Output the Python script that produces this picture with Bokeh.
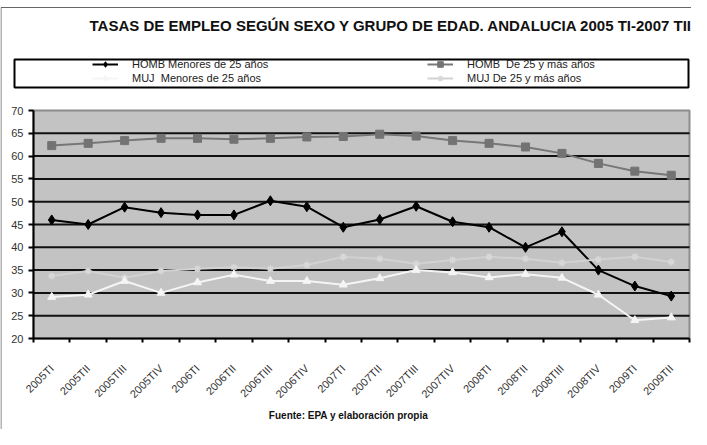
from math import pi
from bokeh.plotting import figure
from bokeh.models import (FixedTicker, Range1d, Legend, LegendItem, Label,
                          BoxAnnotation)
from bokeh.embed import file_html
from bokeh.resources import INLINE

periods = ["2005TI", "2005TII", "2005TIII", "2005TIV", "2006TI", "2006TII",
           "2006TIII", "2006TIV", "2007TI", "2007TII", "2007TIII", "2007TIV",
           "2008TI", "2008TII", "2008TIII", "2008TIV", "2009TI", "2009TII"]
homb_menores = [46.0, 45.0, 48.8, 47.6, 47.1, 47.1, 50.2, 48.9, 44.4, 46.1,
                49.0, 45.6, 44.4, 40.0, 43.4, 35.0, 31.5, 29.3]
homb_mayores = [62.3, 62.8, 63.4, 63.9, 63.9, 63.7, 63.9, 64.2, 64.3, 64.8,
                64.4, 63.4, 62.8, 62.0, 60.6, 58.4, 56.7, 55.8]
muj_menores = [29.1, 29.6, 32.6, 30.0, 32.3, 34.0, 32.6, 32.6, 31.8, 33.2,
               35.0, 34.5, 33.4, 34.1, 33.3, 29.6, 24.0, 24.6]
muj_mayores = [33.7, 34.8, 33.3, 34.8, 35.3, 35.6, 35.3, 36.1, 37.9, 37.5,
               36.4, 37.2, 37.9, 37.5, 36.6, 37.3, 37.9, 36.8]
y_ticks = [20, 25, 30, 35, 40, 45, 50, 55, 60, 65, 70]

title_text = "TASAS DE EMPLEO SEGÚN SEXO Y GRUPO DE EDAD. ANDALUCIA 2005 TI-2007 TII"
source_text = "Fuente: EPA y elaboración propia"
labels = ["HOMB Menores de 25 años", "HOMB  De 25 y más años",
          "MUJ  Menores de 25 años", "MUJ De 25 y más años"]

FONT = "Liberation Sans"

# ---- layout (canvas pixels) ----
W, H = 691, 429
PL, PR, PT, PB = 33, 689, 110, 338     # plot area edges

n = len(periods)
idx = list(range(n))
x0, x1 = -0.5, n - 0.5
y0, y1 = y_ticks[0], y_ticks[-1]
ppx = (PR - PL) / (x1 - x0)
ppy = (PB - PT) / (y1 - y0)

p = figure(width=W, height=H, output_backend="svg", toolbar_location=None,
           x_range=Range1d(x0 - PL / ppx, x1 + (W - PR) / ppx),
           y_range=Range1d(y0 - (H - PB) / ppy, y1 + PT / ppy),
           min_border=0, background_fill_color="white",
           border_fill_color="white", outline_line_color=None)
p.title.visible = False

# plot area background
p.add_layout(BoxAnnotation(left=x0, right=x1, bottom=y0, top=y1,
                           fill_color="#c3c3c3", fill_alpha=1,
                           line_color="#8c8c8c", line_width=2, line_alpha=1,
                           level="underlay"))

# horizontal grid lines
grid_vals = y_ticks[1:-1]
p.segment(x0=x0, x1=x1, y0=grid_vals, y1=grid_vals, line_color="#111111",
          line_width=2)
p.xgrid.visible = False
p.ygrid.visible = False

# x axis: labels centred on categories, ticks on boundaries
xa = p.xaxis[0]
xa.fixed_location = y0
xa.bounds = (x0, x1)
xa.ticker = FixedTicker(ticks=idx, minor_ticks=[i - 0.5 for i in range(n + 1)])
xa.major_label_overrides = {i: s for i, s in zip(idx, periods)}
xa.major_label_orientation = pi / 4
xa.major_tick_line_color = None
xa.minor_tick_out = 4
xa.minor_tick_in = 0
xa.minor_tick_line_color = "black"
xa.minor_tick_line_width = 2
xa.axis_line_color = "black"
xa.axis_line_width = 2
xa.major_label_standoff = 22
xa.major_label_text_font = FONT
xa.major_label_text_font_size = "11px"
xa.major_label_text_color = "#333333"

ya = p.yaxis[0]
ya.fixed_location = x0
ya.bounds = (y0, y1)
ya.ticker = FixedTicker(ticks=y_ticks)
ya.major_tick_out = 5
ya.major_tick_in = 0
ya.minor_tick_line_color = None
ya.axis_line_color = "black"
ya.axis_line_width = 2
ya.major_tick_line_color = "black"
ya.major_tick_line_width = 2
ya.major_label_standoff = 5
ya.major_label_text_font = FONT
ya.major_label_text_font_size = "11px"
ya.major_label_text_color = "#333333"

r1 = p.line(idx, homb_menores, line_color="#000000", line_width=2)
s1 = p.scatter(idx, homb_menores, marker="diamond", size=10, color="#000000")
r2 = p.line(idx, homb_mayores, line_color="#777777", line_width=2)
s2 = p.scatter(idx, homb_mayores, marker="square", size=8, color="#737373")
r4 = p.line(idx, muj_mayores, line_color="#d2d2d2", line_width=2)
s4 = p.scatter(idx, muj_mayores, marker="asterisk", size=7,
               line_color="#d8d8d8", line_width=1.5)
r3 = p.line(idx, muj_menores, line_color="#f5f5f5", line_width=2)
s3 = p.scatter(idx, muj_menores, marker="triangle", size=8, color="#f5f5f5")


def make_legend(items, x):
    return Legend(items=items, location=(x, H - 85), orientation="vertical",
                  padding=0, margin=0, spacing=0, glyph_width=26,
                  glyph_height=14, label_height=14, label_standoff=14,
                  label_text_font=FONT, label_text_font_size="11px",
                  label_text_color="#222222", border_line_alpha=0,
                  background_fill_alpha=0)


leg1 = make_legend([LegendItem(label=labels[0], renderers=[r1, s1]),
                    LegendItem(label=labels[2], renderers=[r3, s3])], 92)
leg2 = make_legend([LegendItem(label=labels[1], renderers=[r2, s2]),
                    LegendItem(label=labels[3], renderers=[r4, s4])], 427)
p.add_layout(leg1)
p.add_layout(leg2)

# legend frame and outer chart frame (screen units)
p.add_layout(BoxAnnotation(left=14, right=688, top=H - 59, bottom=H - 87,
                           left_units="screen", right_units="screen",
                           top_units="screen", bottom_units="screen",
                           fill_alpha=0, line_color="black", line_width=2,
                           line_alpha=1))
p.add_layout(BoxAnnotation(left=0.5, right=W + 20, top=H - 7, bottom=-20,
                           left_units="screen", right_units="screen",
                           top_units="screen", bottom_units="screen",
                           fill_alpha=0, line_color="#666666", line_width=1,
                           line_alpha=1))

p.add_layout(Label(x=89, y=H - 25, x_units="screen", y_units="screen",
                   text=title_text, text_font=FONT, text_font_size="15px",
                   text_font_style="bold", text_baseline="middle",
                   text_color="#111111"))
p.add_layout(Label(x=348, y=H - 415, x_units="screen", y_units="screen",
                   text=source_text, text_font=FONT, text_font_size="10px",
                   text_font_style="bold", text_align="center",
                   text_baseline="middle", text_color="#111111"))

open("out.html", "w").write(file_html(p, INLINE))
